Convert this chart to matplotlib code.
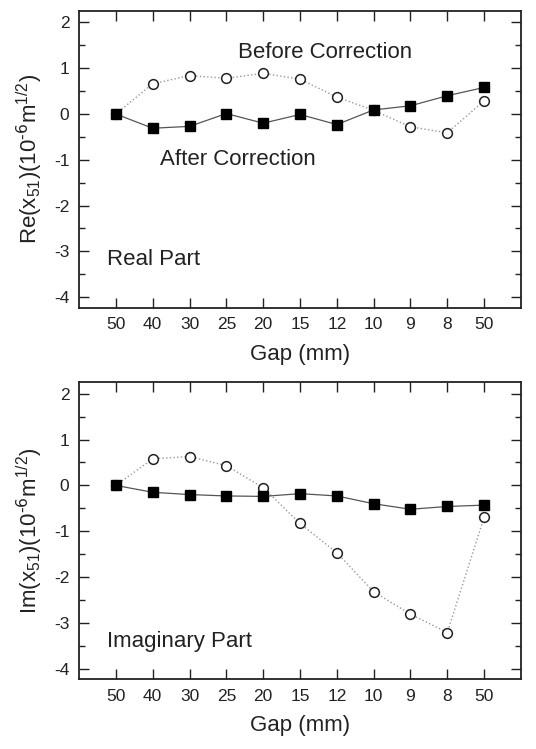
import numpy as np
import matplotlib
matplotlib.use("Agg")
import matplotlib.pyplot as plt
from matplotlib.ticker import MultipleLocator

plt.rcParams['font.family'] = ['Liberation Sans', 'DejaVu Sans']
plt.rcParams['mathtext.default'] = 'regular'
plt.rcParams['axes.unicode_minus'] = False

gap_labels = ['50', '40', '30', '25', '20', '15', '12', '10', '9', '8', '50']

# Re part
re_before = [0.0, 0.66, 0.84, 0.78, 0.89, 0.76, 0.37, 0.08, -0.28, -0.41, 0.29]
re_after = [0.0, -0.31, -0.27, 0.01, -0.20, -0.01, -0.23, 0.09, 0.18, 0.40, 0.58]

# Im part
im_before = [0.0, 0.58, 0.63, 0.43, -0.05, -0.83, -1.47, -2.32, -2.81, -3.21, -0.69]
im_after = [0.0, -0.15, -0.20, -0.23, -0.24, -0.18, -0.23, -0.40, -0.52, -0.46, -0.43]

x = np.arange(len(gap_labels))

fig = plt.figure(figsize=(5.36, 7.49), dpi=100)
ax1 = fig.add_axes([0.1474, 0.5892, 0.8246, 0.3961])
ax2 = fig.add_axes([0.1474, 0.0931, 0.8246, 0.3965])


def style_axes(ax, ylabel):
    ax.set_xlim(-1, 11)
    ax.set_ylim(-4.23, 2.25)
    ax.set_xticks(x)
    ax.set_xticklabels(gap_labels)
    ax.set_yticks([-4, -3, -2, -1, 0, 1, 2])
    ax.yaxis.set_minor_locator(MultipleLocator(0.5))
    ax.tick_params(which='both', direction='in', top=True, right=True,
                   labelsize=12.5, colors='#222222', width=1.0, pad=7)
    ax.tick_params(which='major', length=7)
    ax.tick_params(which='minor', length=4)
    for s in ax.spines.values():
        s.set_linewidth(1.3)
        s.set_color('#222222')
    ax.set_xlabel('Gap (mm)', fontsize=16, color='#222222', labelpad=8)
    ax.set_ylabel(ylabel, fontsize=16, color='#222222', labelpad=6)


def draw(ax, before, after):
    ax.plot(x, before, linestyle=':', color='#999999', linewidth=1.0,
            marker='o', markersize=7, markerfacecolor='white',
            markeredgecolor='#222222', markeredgewidth=1.1, zorder=2)
    ax.plot(x, after, linestyle='-', color='#555555', linewidth=0.9,
            marker='s', markersize=7, markerfacecolor='black',
            markeredgecolor='black', zorder=3)


draw(ax1, re_before, re_after)
style_axes(ax1, r'Re(x$_{51}$)(10$^{\text{-6}}$m$^{1/2}$)')
ax1.text(5.68, 1.35, 'Before Correction', fontsize=16, ha='center', va='center', color='#222222')
ax1.text(3.3, -0.99, 'After Correction', fontsize=16, ha='center', va='center', color='#222222')
ax1.text(-0.24, -3.18, 'Real Part', fontsize=16, ha='left', va='center', color='#222222')

draw(ax2, im_before, im_after)
style_axes(ax2, r'Im(x$_{51}$)(10$^{\text{-6}}$m$^{1/2}$)')
ax2.text(-0.24, -3.41, 'Imaginary Part', fontsize=16, ha='left', va='center', color='#222222')

fig.savefig('out.png', dpi=100)
